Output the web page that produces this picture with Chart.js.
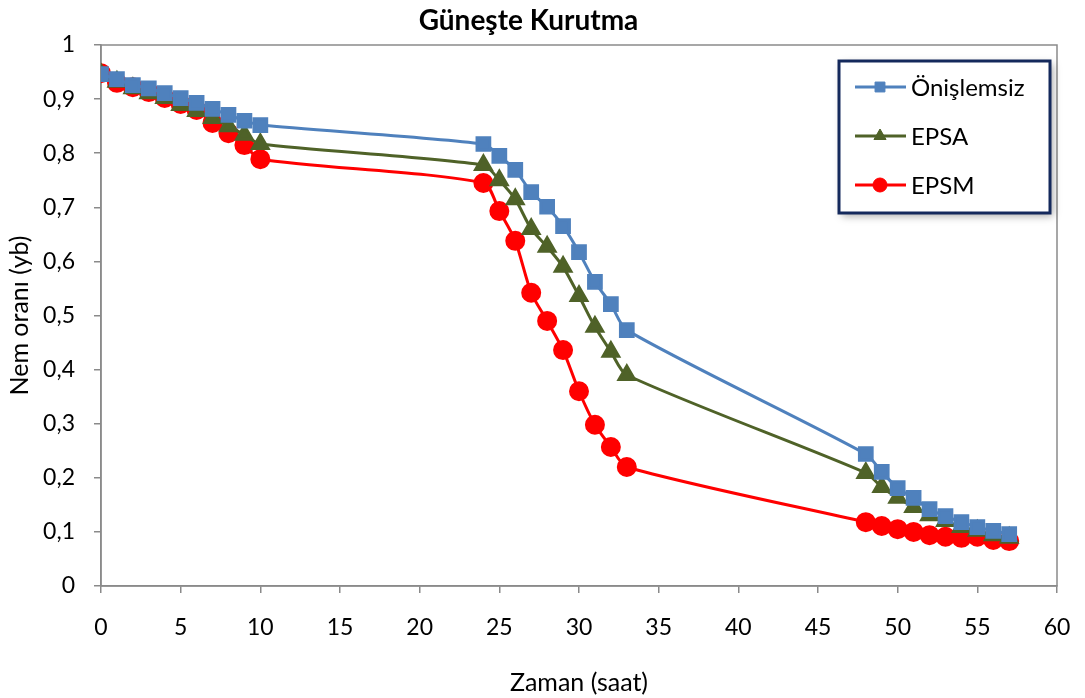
<!DOCTYPE html>
<html>
<head>
<meta charset="utf-8">
<script src="https://cdn.jsdelivr.net/npm/chart.js@4.4.1/dist/chart.umd.min.js"></script>
<style>
  html, body { margin: 0; padding: 0; background: #fff; }
  #wrap { width: 1085px; height: 698px; }
</style>
</head>
<body>
<div id="wrap"><canvas id="chart" width="1085" height="698"></canvas></div>
<script>
// Zaman (saat)
const hours = [0, 1, 2, 3, 4, 5, 6, 7, 8, 9, 10,
  24, 25, 26, 27, 28, 29, 30, 31, 32, 33,
  48, 49, 50, 51, 52, 53, 54, 55, 56, 57];

// Nem orani (yb)
const onislemsiz = [0.946, 0.937, 0.926, 0.920, 0.911, 0.902, 0.893, 0.882, 0.871, 0.860, 0.852,
  0.817, 0.795, 0.769, 0.728, 0.701, 0.665, 0.617, 0.562, 0.521, 0.473,
  0.244, 0.211, 0.181, 0.163, 0.142, 0.129, 0.118, 0.109, 0.102, 0.096];
const epsa = [0.946, 0.932, 0.920, 0.911, 0.902, 0.889, 0.878, 0.865, 0.850, 0.834, 0.817,
  0.778, 0.750, 0.715, 0.660, 0.627, 0.590, 0.536, 0.479, 0.433, 0.390,
  0.209, 0.183, 0.163, 0.146, 0.131, 0.120, 0.109, 0.102, 0.094, 0.089];
const epsm = [0.948, 0.930, 0.922, 0.913, 0.902, 0.891, 0.880, 0.856, 0.837, 0.815, 0.789,
  0.745, 0.693, 0.638, 0.542, 0.490, 0.436, 0.360, 0.298, 0.257, 0.220,
  0.118, 0.111, 0.105, 0.100, 0.094, 0.091, 0.089, 0.091, 0.085, 0.083];

const seriesNames = ["Önişlemsiz", "EPSA", "EPSM"];
const xTicks = [0, 5, 10, 15, 20, 25, 30, 35, 40, 45, 50, 55, 60];

const FONT = "Lato, 'Open Sans', sans-serif";
const AXIS_GREY = "#8a8a8a";

const toPoints = (vals) => hours.map((h, i) => ({ x: h, y: vals[i] }));

// plot frame (top + right edges, the scales draw left + bottom)
const frame = {
  id: "frame",
  beforeDatasetsDraw(chart) {
    const { ctx, chartArea: a } = chart;
    ctx.save();
    ctx.strokeStyle = AXIS_GREY;
    ctx.lineWidth = 1.5;
    ctx.strokeRect(a.left, a.top, a.right - a.left, a.bottom - a.top);
    ctx.restore();
  }
};

// boxed legend in the top right corner, like the original
const boxLegend = {
  id: "boxLegend",
  afterDraw(chart) {
    const { ctx } = chart;
    const x = 839, y = 61, w = 211, h = 152;
    ctx.save();
    ctx.shadowColor = "rgba(0,0,0,0.35)";
    ctx.shadowBlur = 8;
    ctx.shadowOffsetX = 3;
    ctx.shadowOffsetY = 3;
    ctx.fillStyle = "#fff";
    ctx.fillRect(x, y, w, h);
    ctx.shadowColor = "transparent";
    ctx.strokeStyle = "#14295c";
    ctx.lineWidth = 3;
    ctx.strokeRect(x, y, w, h);

    chart.data.datasets.forEach((ds, i) => {
      const cy = 87 + i * 49;
      ctx.strokeStyle = ds.borderColor;
      ctx.lineWidth = 3;
      ctx.beginPath();
      ctx.moveTo(855, cy);
      ctx.lineTo(906, cy);
      ctx.stroke();
      ctx.fillStyle = ds.pointBackgroundColor;
      ctx.strokeStyle = ds.pointBorderColor;
      ctx.lineWidth = 1;
      Chart.helpers.drawPoint(ctx, { pointStyle: ds.pointStyle, radius: 7, borderWidth: 1 }, 880, cy);
      ctx.fillStyle = "#000";
      ctx.font = "24px " + FONT;
      ctx.textBaseline = "middle";
      ctx.textAlign = "left";
      ctx.fillText(ds.label, 911, cy + 1);
    });
    ctx.restore();
  }
};

const mkSet = (label, vals, color, style, radius) => ({
  label: label,
  data: toPoints(vals),
  borderColor: color,
  backgroundColor: color,
  pointBackgroundColor: color,
  pointBorderColor: color,
  pointStyle: style,
  pointRadius: radius,
  pointHoverRadius: radius,
  borderWidth: 3,
  tension: 0.25,
  fill: false
});

new Chart(document.getElementById("chart"), {
  type: "line",
  data: {
    datasets: [
      mkSet(seriesNames[0], onislemsiz, "#4f81bd", "rect", 9),
      mkSet(seriesNames[1], epsa, "#4f6228", "triangle", 9),
      mkSet(seriesNames[2], epsm, "#ff0000", "circle", 8.5)
    ]
  },
  options: {
    responsive: false,
    animation: false,
    layout: { padding: { left: 0, right: 28, top: 0, bottom: 0 } },
    plugins: {
      legend: { display: false },
      tooltip: { enabled: false },
      title: {
        display: true,
        text: "Güneşte Kurutma",
        color: "#000",
        font: { family: FONT, size: 28, weight: "bold", lineHeight: 1.2 },
        padding: { top: 4, bottom: 7.4 }
      }
    },
    scales: {
      x: {
        type: "linear",
        min: 0,
        max: 60,
        afterBuildTicks(scale) {
          scale.ticks = xTicks.map((v) => ({ value: v }));
        },
        afterFit(scale) {
          scale.height = 112;
          scale.paddingLeft = 0;
          scale.paddingRight = 0;
        },
        grid: { display: true, drawOnChartArea: false, drawTicks: true, tickLength: 7, color: AXIS_GREY, lineWidth: 1.5 },
        border: { display: true, color: AXIS_GREY, width: 1.5 },
        ticks: { color: "#000", font: { family: FONT, size: 23 }, padding: 21, maxRotation: 0 },
        title: {
          display: true,
          text: "Zaman (saat)",
          color: "#000",
          font: { family: FONT, size: 25 },
          padding: { top: 0, bottom: 0 }
        }
      },
      y: {
        min: 0,
        max: 1,
        afterFit(scale) {
          scale.width = 101;
          scale.paddingTop = 0;
          scale.paddingBottom = 0;
        },
        grid: { display: true, drawOnChartArea: false, drawTicks: true, tickLength: 7, color: AXIS_GREY, lineWidth: 1.5 },
        border: { display: true, color: AXIS_GREY, width: 1.5 },
        ticks: {
          stepSize: 0.1,
          color: "#000",
          font: { family: FONT, size: 23 },
          padding: 19,
          callback: (v) => (Math.round(v * 10) / 10).toString().replace(".", ",")
        },
        title: {
          display: true,
          text: "Nem oranı (yb)",
          color: "#000",
          font: { family: FONT, size: 25 },
          padding: { top: 5, bottom: 0 }
        }
      }
    }
  },
  plugins: [frame, boxLegend]
});
</script>
</body>
</html>
